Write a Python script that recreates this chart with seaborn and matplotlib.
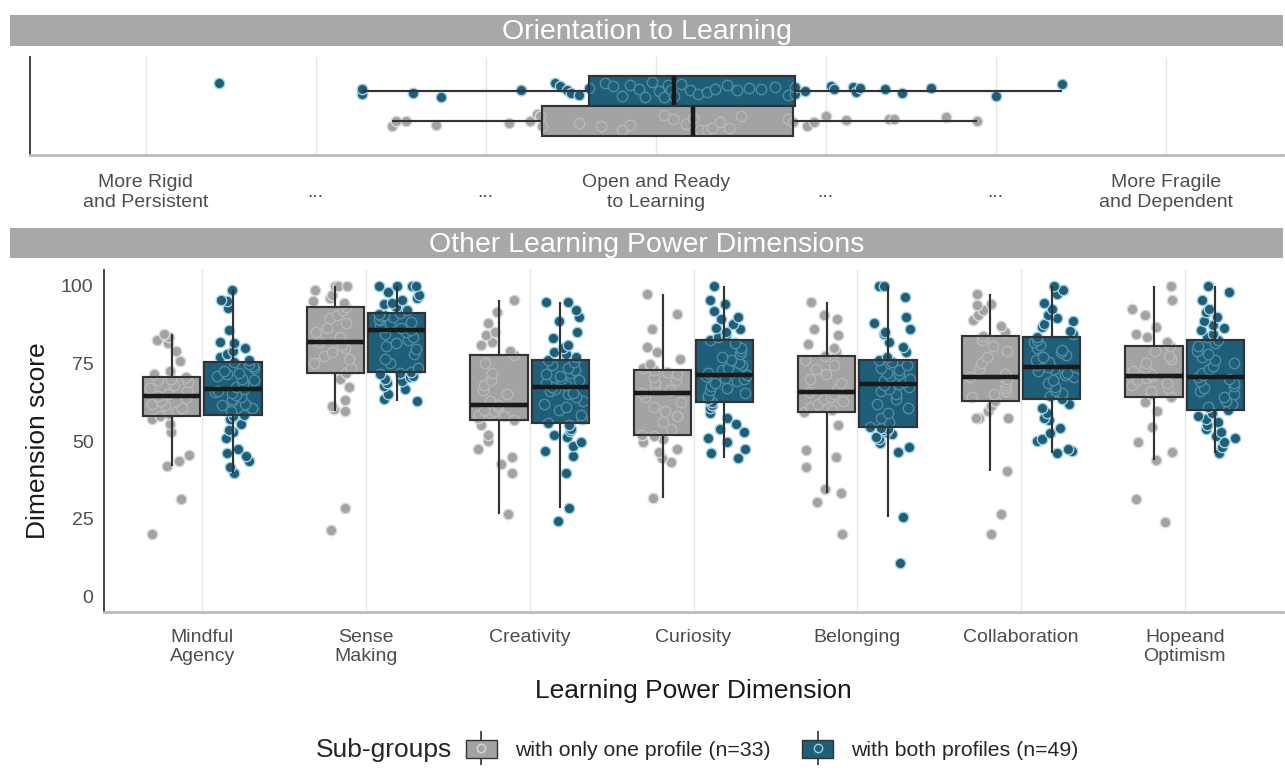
import numpy as np
import pandas as pd
import matplotlib
matplotlib.use("Agg")
import matplotlib.pyplot as plt
from matplotlib.patches import Patch
from matplotlib.lines import Line2D
from matplotlib.legend_handler import HandlerTuple
from matplotlib.colors import to_rgba
import seaborn as sns

sns.set_style("white")
plt.rcParams['font.family'] = ['Liberation Sans', 'DejaVu Sans']

# ---------------- data ----------------
GROUPS = ["with only one profile (n=33)", "with both profiles (n=49)"]

orient_ticks = [-3, -2, -1, 0, 1, 2, 3]
orient_labels = ["More Rigid\nand Persistent", "...", "...", "Open and Ready\nto Learning",
                 "...", "...", "More Fragile\nand Dependent"]

orient_one = [-1.55, -1.53, -1.47, -1.29, -0.86, -0.74, -0.70, -0.68, -0.67, -0.45, -0.32,
              -0.20, -0.15, 0.05, 0.10, 0.18, 0.22, 0.26, 0.30, 0.33, 0.38, 0.43, 0.50,
              0.78, 0.81, 0.89, 0.93, 1.00, 1.12, 1.37, 1.40, 1.71, 1.89]
orient_both = [-2.57, -1.73, -1.73, -1.43, -1.26, -0.79, -0.79, -0.59, -0.56, -0.52, -0.50,
               -0.45, -0.39, -0.30, -0.25, -0.20, -0.15, -0.10, -0.06, -0.02, 0.02, 0.05,
               0.07, 0.09, 0.11, 0.15, 0.20, 0.25, 0.30, 0.35, 0.42, 0.48, 0.55, 0.62,
               0.70, 0.78, 0.82, 0.82, 0.88, 1.03, 1.05, 1.16, 1.18, 1.20, 1.35, 1.45,
               1.62, 2.00, 2.39]

dimensions = ["Mindful\nAgency", "Sense\nMaking", "Creativity", "Curiosity",
              "Belonging", "Collaboration", "Hopeand\nOptimism"]

ma_one = [20.0, 31.5, 42.0, 43.5, 45.5, 52.8, 55.5, 57.0, 58.2, 58.8, 59.5, 60.5, 61.5,
          62.0, 63.0, 63.8, 64.4, 65.2, 66.0, 67.0, 68.0, 69.0, 69.5, 70.0, 70.5, 71.5,
          72.4, 75.6, 79.0, 81.5, 82.4, 83.5, 84.5]
ma_both = [39.7, 41.5, 43.7, 45.3, 46.0, 47.4, 51.0, 53.0, 53.5, 55.5, 57.0, 58.0, 58.5,
           59.5, 60.5, 61.5, 62.0, 63.0, 63.5, 64.0, 64.8, 65.3, 65.8, 66.2, 66.6, 67.5,
           68.5, 69.5, 70.0, 71.0, 71.5, 72.0, 72.5, 73.5, 74.0, 74.8, 75.4, 76.0, 77.0,
           78.0, 79.0, 80.0, 81.5, 82.0, 85.6, 92.9, 95.0, 95.5, 98.6]
sm_one = [21.4, 28.6, 59.5, 60.3, 61.2, 63.3, 67.3, 70.0, 71.9, 73.5, 75.0, 76.5, 77.5,
          78.5, 80.0, 81.0, 82.0, 83.5, 85.0, 86.5, 88.0, 89.5, 90.5, 92.0, 93.1, 94.5,
          95.0, 96.0, 97.0, 98.7, 100.0, 100.0, 100.0]
sm_both = [63.0, 63.5, 65.0, 66.7, 67.8, 68.5, 69.4, 70.0, 70.5, 71.0, 71.5, 72.0, 72.1,
           73.5, 75.0, 76.5, 78.0, 79.5, 80.5, 81.5, 82.5, 83.5, 84.5, 85.2, 85.8, 86.3,
           86.8, 87.3, 87.8, 88.3, 88.8, 89.3, 89.8, 90.2, 90.6, 91.0, 91.2, 92.0, 93.0,
           94.0, 94.5, 95.5, 96.0, 97.0, 98.0, 100.0, 100.0, 100.0, 100.0]
cr_one = [26.5, 39.7, 42.6, 44.7, 47.4, 50.0, 51.8, 55.0, 56.8, 57.5, 58.0, 58.5, 59.0,
          59.5, 60.0, 61.0, 61.7, 63.0, 65.0, 66.5, 68.0, 69.5, 72.0, 75.0, 77.7, 79.0,
          81.0, 81.7, 84.0, 85.0, 88.0, 91.5, 95.3]
cr_both = [24.3, 28.3, 39.7, 45.3, 46.9, 48.5, 49.6, 51.2, 52.0, 53.3, 54.0, 55.0, 55.7,
           57.0, 58.5, 60.0, 61.0, 62.0, 63.0, 64.0, 65.0, 65.5, 66.0, 66.8, 67.3, 68.0,
           68.8, 69.5, 70.0, 70.8, 71.5, 72.0, 72.8, 73.5, 74.5, 75.5, 76.2, 77.0, 78.0,
           78.7, 80.0, 80.8, 83.0, 85.0, 88.5, 90.0, 92.0, 94.7, 94.7]
cu_one = [31.8, 43.2, 44.5, 46.4, 47.5, 49.6, 50.5, 51.5, 52.0, 54.0, 56.0, 58.0, 59.5,
          61.0, 62.5, 64.0, 65.5, 66.5, 67.5, 68.5, 69.5, 70.5, 71.5, 72.3, 72.9, 73.5,
          74.8, 76.4, 78.5, 80.2, 86.0, 90.9, 97.4]
cu_both = [44.5, 46.0, 47.4, 49.6, 51.0, 52.9, 54.0, 55.5, 57.5, 59.0, 60.5, 61.5, 62.5,
           63.5, 64.5, 65.5, 66.5, 67.0, 67.8, 68.5, 69.2, 69.8, 70.3, 70.8, 71.3, 72.0,
           72.8, 73.5, 74.3, 75.0, 76.0, 77.0, 78.0, 79.0, 80.0, 81.5, 82.6, 83.5, 84.0,
           85.0, 85.9, 86.5, 87.5, 89.1, 90.0, 91.8, 94.0, 95.5, 100.0]
be_one = [20.0, 30.3, 33.3, 34.5, 41.5, 45.0, 47.0, 55.0, 59.2, 60.0, 61.0, 62.0, 62.8,
          63.5, 64.3, 65.0, 65.9, 67.0, 68.5, 70.0, 71.5, 73.0, 74.5, 76.0, 77.2, 78.5,
          80.0, 81.3, 84.0, 86.0, 89.3, 90.4, 94.7]
be_both = [10.9, 25.4, 46.4, 48.0, 49.5, 50.5, 51.2, 52.3, 53.0, 53.5, 54.0, 54.3, 54.6,
           56.0, 57.5, 59.0, 60.5, 62.0, 63.5, 65.0, 66.0, 66.8, 67.5, 68.0, 68.4, 69.0,
           69.5, 70.0, 70.5, 71.0, 71.5, 72.0, 72.8, 73.5, 74.5, 75.5, 76.2, 77.0, 78.5,
           80.2, 82.0, 84.5, 85.0, 86.1, 88.0, 89.9, 96.3, 100.0, 100.0]
co_one = [20.0, 26.5, 40.4, 57.4, 57.4, 57.4, 59.5, 61.2, 63.0, 64.0, 65.0, 66.0, 67.0,
          68.0, 69.0, 70.0, 70.5, 71.5, 73.0, 75.0, 77.0, 79.0, 80.5, 82.5, 83.7, 85.0,
          87.1, 89.0, 90.4, 92.0, 93.6, 94.2, 97.4]
co_both = [46.3, 46.7, 47.3, 50.0, 50.5, 52.5, 54.2, 56.9, 57.5, 59.0, 60.6, 62.0, 63.5,
           64.5, 65.5, 66.5, 67.5, 68.5, 69.5, 70.5, 71.3, 72.0, 72.6, 73.2, 73.8, 74.5,
           75.3, 76.0, 77.0, 77.8, 78.5, 79.3, 80.0, 81.0, 81.8, 82.6, 83.4, 84.5, 85.5,
           86.6, 87.5, 88.5, 89.5, 90.4, 92.5, 94.5, 97.3, 98.5, 100.0]
ho_one = [23.8, 31.3, 44.0, 46.4, 49.6, 54.4, 59.5, 62.5, 64.1, 65.0, 66.0, 67.0, 68.0,
          68.8, 69.5, 70.2, 70.8, 71.5, 72.5, 73.5, 75.0, 76.5, 77.5, 79.0, 80.4, 82.0,
          83.5, 84.5, 86.7, 90.4, 92.6, 95.3, 100.0]
ho_both = [46.3, 48.0, 49.6, 51.0, 51.7, 53.0, 54.0, 55.0, 56.0, 57.0, 58.0, 59.0, 60.0,
           61.0, 62.0, 63.0, 64.0, 65.0, 66.0, 67.0, 67.8, 68.5, 69.2, 69.9, 70.5, 71.3,
           72.0, 73.0, 74.0, 75.0, 76.0, 77.0, 78.0, 79.0, 80.5, 81.5, 82.6, 83.5, 84.5,
           85.6, 86.5, 87.2, 88.5, 90.0, 91.5, 92.6, 95.3, 98.0, 100.0]

# ---------------- styling ----------------
COLORS = {GROUPS[0]: "#A3A3A3", GROUPS[1]: "#1E5E78"}
EDGES = {GROUPS[0]: "#D9D9D9", GROUPS[1]: "#9FCFE0"}
LINE = "#333333"
STRIP = "#A8A8A8"
TXT = "#4D4D4D"

# ---------------- frames ----------------
orient_df = pd.DataFrame({
    "score": orient_one + orient_both,
    "grp": [GROUPS[0]] * len(orient_one) + [GROUPS[1]] * len(orient_both),
    "cat": ["Orientation"] * (len(orient_one) + len(orient_both)),
})

dim_pairs = [(ma_one, ma_both), (sm_one, sm_both), (cr_one, cr_both), (cu_one, cu_both),
             (be_one, be_both), (co_one, co_both), (ho_one, ho_both)]
rows = []
for d, (one, both) in zip(dimensions, dim_pairs):
    rows += [(d, GROUPS[0], v) for v in one]
    rows += [(d, GROUPS[1], v) for v in both]
dim_df = pd.DataFrame(rows, columns=["dim", "grp", "score"])

W, H = 1285, 776
fig = plt.figure(figsize=(W / 100, H / 100), dpi=100)


def rect(x0, y0, x1, y1):
    return [x0 / W, 1 - y1 / H, (x1 - x0) / W, (y1 - y0) / H]


def strip_header(x0, y0, x1, y1, text):
    sax = fig.add_axes(rect(x0, y0, x1, y1))
    sax.set_facecolor(STRIP)
    for s in sax.spines.values():
        s.set_visible(False)
    sax.set_xticks([]); sax.set_yticks([])
    sax.text(0.5, 0.45, text, ha="center", va="center", color="white", fontsize=20.5,
             transform=sax.transAxes)


def layered(ax, data, x, y, order, hue_order, width, gap, jitter, size):
    common = dict(data=data, x=x, y=y, hue="grp", order=order, hue_order=hue_order,
                  palette=COLORS, dodge=True, legend=False, ax=ax)
    boxkw = dict(width=width, gap=gap, showfliers=False, showcaps=False, linewidth=1.5,
                 linecolor=LINE, saturation=1,
                 medianprops=dict(color="#1A1A1A", linewidth=3.2))
    # layer 1: opaque boxes
    npatch, nline = len(ax.patches), len(ax.lines)
    sns.boxplot(**common, **boxkw)
    for a in list(ax.patches[npatch:]) + list(ax.lines[nline:]):
        a.set_zorder(1)
    # points
    ncoll = len(ax.collections)
    np.random.seed(7)
    sns.stripplot(**common, jitter=jitter, size=size, linewidth=1.0)
    for c in ax.collections[ncoll:]:
        fc = c.get_facecolor()
        if len(fc) == 0:
            continue
        g = GROUPS[1] if fc[0][0] < 0.4 else GROUPS[0]
        c.set_edgecolor(EDGES[g])
        c.set_facecolor(COLORS[g])
        c.set_zorder(2)
    # layer 2: translucent boxes on top
    npatch, nline = len(ax.patches), len(ax.lines)
    sns.boxplot(**common, **boxkw)
    for p in ax.patches[npatch:]:
        p.set_facecolor(to_rgba(p.get_facecolor(), 0.6))
        p.set_zorder(3)
    for l in ax.lines[nline:]:
        l.set_zorder(3)


# ---------------- top panel ----------------
strip_header(10, 15, 1283, 46, "Orientation to Learning")
ax1 = fig.add_axes(rect(30, 57, 1283, 155))
layered(ax1, orient_df, "score", "cat", ["Orientation"], [GROUPS[1], GROUPS[0]],
        width=0.75, gap=0.02, jitter=0.2, size=7.5)
ax1.set_xlim(-3.68, 3.69)
ax1.set_ylim(0.6, -0.6)
ax1.set_xticks(orient_ticks)
ax1.set_xticklabels(orient_labels, fontsize=14, color=TXT)
for t in ax1.get_xticklabels():
    t.set_verticalalignment("center")
ax1.set_yticks([0])
ax1.set_yticklabels([""])
ax1.set_xlabel(""); ax1.set_ylabel("")
ax1.xaxis.grid(True, color="#E6E6E6", lw=1)
ax1.set_axisbelow(True)
for s in ["top", "right"]:
    ax1.spines[s].set_visible(False)
ax1.spines["left"].set_color(LINE); ax1.spines["left"].set_linewidth(1.3)
ax1.spines["bottom"].set_color("#BBBBBB"); ax1.spines["bottom"].set_linewidth(2)
ax1.tick_params(axis="x", length=5, width=1.2, color=LINE, pad=22)
ax1.tick_params(axis="y", length=3, width=1.2, color=LINE)

# ---------------- bottom panel ----------------
strip_header(10, 228, 1283, 258, "Other Learning Power Dimensions")
ax2 = fig.add_axes(rect(104, 270, 1283, 612))
layered(ax2, dim_df, "dim", "score", dimensions, GROUPS,
        width=0.75, gap=0.07, jitter=0.25, size=7.5)
ax2.set_xlim(-0.6, 6.6)
ax2.set_ylim(-5, 105)
ax2.set_yticks([0, 25, 50, 75, 100])
ax2.tick_params(axis="y", labelsize=14, labelcolor=TXT, length=4, width=1.2, color=LINE)
ax2.tick_params(axis="x", labelsize=14, labelcolor=TXT, length=5, width=1.2, color=LINE, pad=7)
ax2.set_xlabel("Learning Power Dimension", fontsize=19, labelpad=10, color="#1A1A1A")
ax2.set_ylabel("Dimension score", fontsize=19, labelpad=8, color="#1A1A1A")
ax2.xaxis.grid(True, color="#E6E6E6", lw=1)
ax2.set_axisbelow(True)
for s in ["top", "right"]:
    ax2.spines[s].set_visible(False)
ax2.spines["left"].set_color(LINE); ax2.spines["left"].set_linewidth(1.3)
ax2.spines["bottom"].set_color("#BBBBBB"); ax2.spines["bottom"].set_linewidth(2)

# ---------------- legend ----------------
handles = []
for g in GROUPS:
    handles.append((Line2D([], [], marker="|", linestyle="", markersize=24,
                           markeredgecolor=LINE, markeredgewidth=1.2),
                    Patch(facecolor=COLORS[g], edgecolor=LINE, linewidth=1),
                    Line2D([], [], marker="o", linestyle="", markersize=6,
                           markerfacecolor=COLORS[g], markeredgecolor=EDGES[g])))
fig.text(316 / W, 1 - 750 / H, "Sub-groups", fontsize=19, va="center", ha="left")
fig.legend(handles, GROUPS, handler_map={tuple: HandlerTuple(ndivide=1, pad=0)},
           loc="center left", bbox_to_anchor=(466 / W, 1 - 750 / H), ncol=2, frameon=False,
           fontsize=15.3, handlelength=1.45, handleheight=0.95, columnspacing=1.5,
           handletextpad=0.85, borderpad=0, borderaxespad=0)

fig.savefig("out.png", dpi=100)
